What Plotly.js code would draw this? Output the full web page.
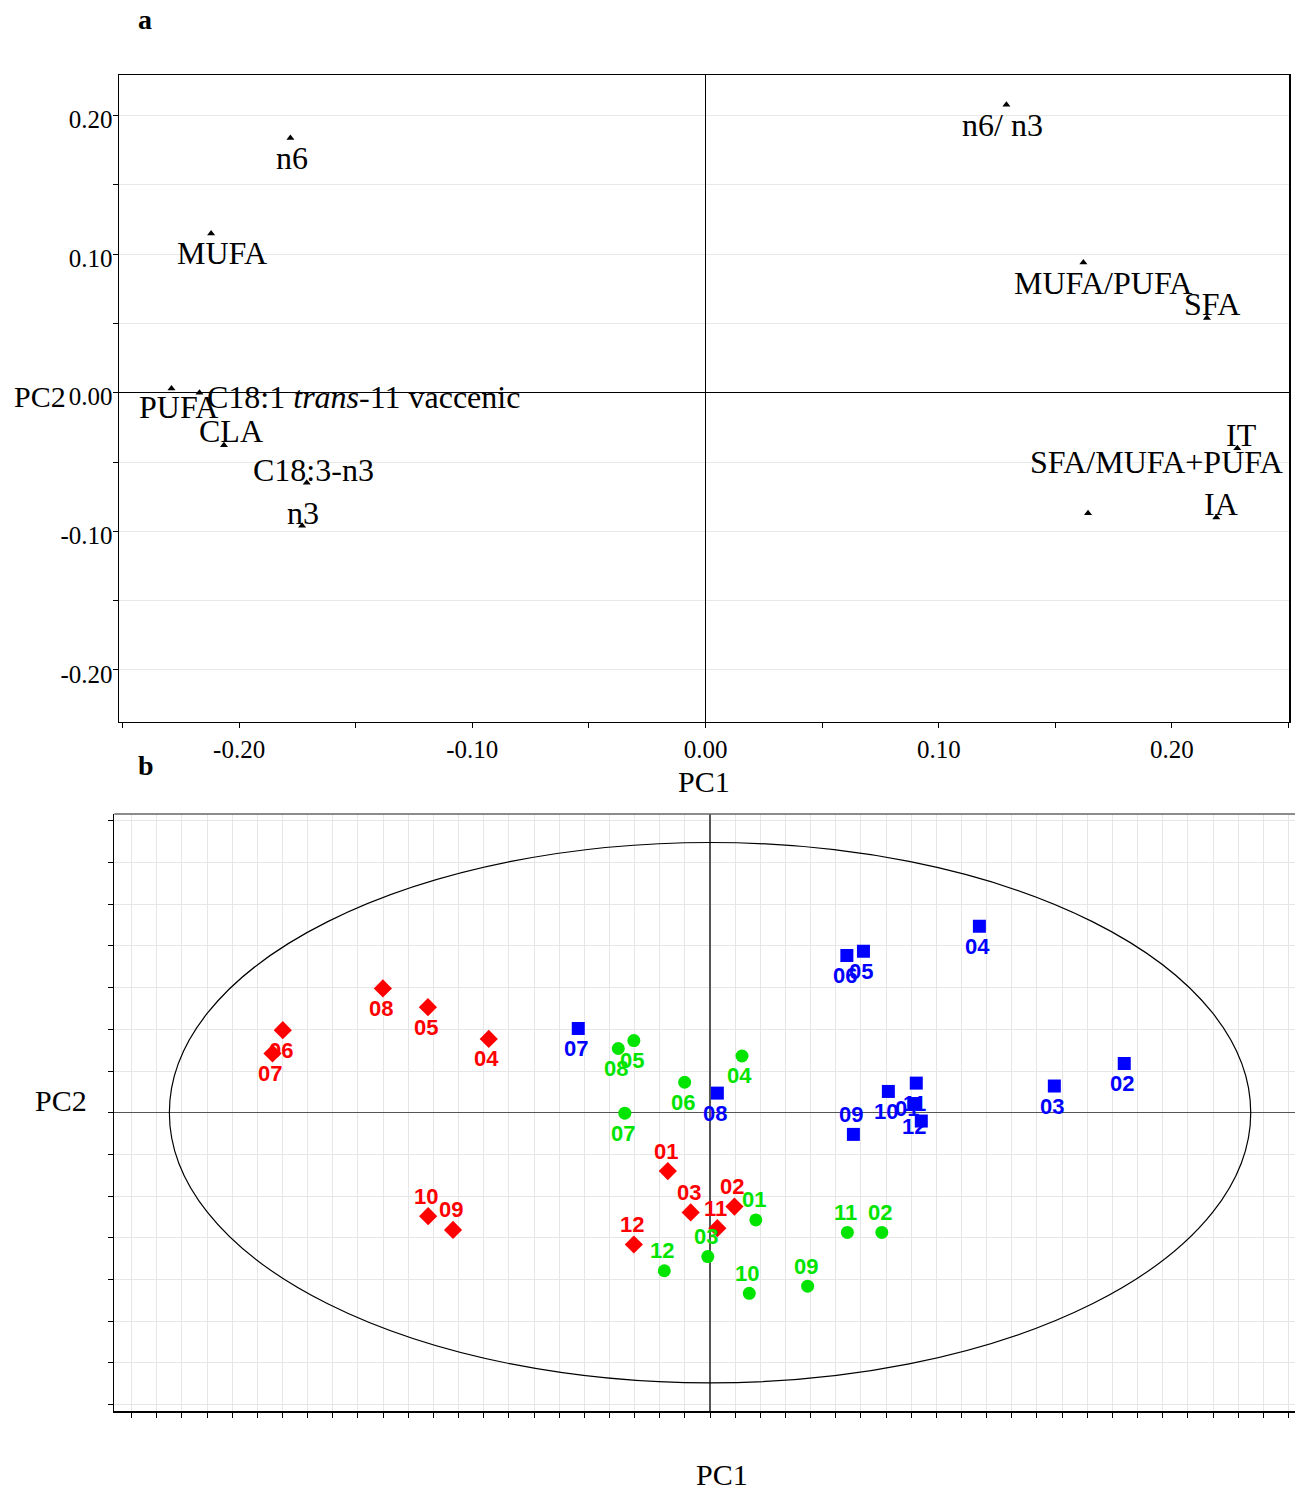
<!DOCTYPE html>
<html><head><meta charset="utf-8">
<script src="https://cdn.plot.ly/plotly-3.0.1.min.js"></script>
<style>html,body{margin:0;padding:0;background:#fff}</style>
</head><body><div id="chart" style="width:1295px;height:1490px"></div>
<script>
// ---------- Panel a: loadings ----------
const loadVars = ['n6','MUFA','PUFA','C18:1 <i>trans</i>-11 vaccenic','CLA','C18:3-n3','n3','n6/ n3','MUFA/PUFA','SFA','IT','SFA/MUFA+PUFA','IA'];
const loadPC1 = [-0.178,-0.212,-0.229,-0.217,-0.2065,-0.171,-0.173,0.129,0.162,0.215,0.228,0.164,0.219];
const loadPC2 = [0.184,0.115,0.003,0.000,-0.038,-0.065,-0.096,0.208,0.094,0.054,-0.040,-0.087,-0.090];
const pc1TickVals = [-0.25,-0.20,-0.15,-0.10,-0.05,0,0.05,0.10,0.15,0.20,0.25];
const pc1TickText = ['','-0.20','','-0.10','','0.00','','0.10','','0.20',''];
const pc2TickVals = [-0.20,-0.15,-0.10,-0.05,0,0.05,0.10,0.15,0.20];
const pc2TickText = ['-0.20','','-0.10','','0.00','','0.10','','0.20'];

// ---------- Panel b: scores ----------
const sampleIds = ['01','02','03','04','05','06','07','08','09','10','11','12'];
const redPC1 = [-1.68,0.97,-0.77,-8.80,-11.22,-16.99,-17.40,-13.01,-10.22,-11.21,0.29,-3.03];
const redPC2 = [-1.40,-2.25,-2.39,1.77,2.53,1.98,1.42,2.98,-2.81,-2.48,-2.77,-3.16];
const greenPC1 = [1.82,6.83,-0.09,1.27,-3.03,-1.01,-3.39,-3.65,3.88,1.56,5.46,-1.82];
const greenPC2 = [-2.57,-2.87,-3.45,1.36,1.73,0.73,-0.01,1.54,-4.16,-4.33,-2.87,-3.79];
const bluePC1 = [8.10,16.47,13.69,10.71,6.10,5.44,-5.24,0.29,5.70,7.09,8.20,8.40];
const bluePC2 = [0.22,1.18,0.64,4.47,3.87,3.77,2.02,0.47,-0.52,0.51,0.71,-0.20];
// Hotelling ellipse semi-axes
const ellipsePC1 = 21.5;
const ellipsePC2 = 6.48;

// ---------- styling (label placement) ----------
const loadLabelShift = [[2,20],[11,20],[7,18],[6,4],[7,-14],[7,-13],[1,-13],[-4,20],[20,20],[5,-14],[4,-13],[68,-51],[5,-13]];
const redPlace   = ['a','a','a','b','b','b','b','b','a','a','a','a'];
const greenPlace = ['a','a','a','b','b','b','b','b','a','a','a','a'];
const bluePlace  = ['c','b','b','b','b','b','b','b','a','b','b','c'];

const W = 1295, H = 1490;
const px = v => v / W, py = v => 1 - v / H;

const traces = [
  {x: loadPC1, y: loadPC2, xaxis:'x', yaxis:'y', mode:'markers', type:'scatter',
   marker:{symbol:'triangle-up', size:7, color:'#000'}, hoverinfo:'skip'},
  {x: redPC1, y: redPC2, xaxis:'x2', yaxis:'y2', mode:'markers', type:'scatter',
   marker:{symbol:'diamond', size:14, color:'#ff0000'}},
  {x: greenPC1, y: greenPC2, xaxis:'x2', yaxis:'y2', mode:'markers', type:'scatter',
   marker:{symbol:'circle', size:13, color:'#00e400'}},
  {x: bluePC1, y: bluePC2, xaxis:'x2', yaxis:'y2', mode:'markers', type:'scatter',
   marker:{symbol:'square', size:13, color:'#0000ff'}}
];

const annotations = [];
loadVars.forEach((t,i) => {
  const left = i === 3;
  annotations.push({text:t, x:loadPC1[i], y:loadPC2[i], xref:'x', yref:'y', showarrow:false,
    xanchor: left ? 'left' : 'center', yanchor:'middle',
    xshift: loadLabelShift[i][0], yshift: -loadLabelShift[i][1],
    font:{family:'Liberation Serif', size:32, color:'#000'}});
});
function addScoreLabels(xs, ys, place, color){
  sampleIds.forEach((id,i) => {
    const p = place[i];
    const ys_ = p === 'a' ? 20 : (p === 'b' ? -20 : -5);
    const xs_ = p === 'c' ? -7 : -2;
    annotations.push({text:'<b>'+id+'</b>', x:xs[i], y:ys[i], xref:'x2', yref:'y2', showarrow:false,
      xanchor:'center', yanchor:'middle', xshift:xs_, yshift:ys_,
      font:{family:'Liberation Sans', size:22, color:color}});
  });
}
addScoreLabels(redPC1, redPC2, redPlace, '#ff0000');
addScoreLabels(greenPC1, greenPC2, greenPlace, '#00e400');
addScoreLabels(bluePC1, bluePC2, bluePlace, '#0000ff');

const ttl = (text, x, y, size, bold) => ({text: bold ? '<b>'+text+'</b>' : text, x:px(x), y:py(y),
  xref:'paper', yref:'paper', showarrow:false, xanchor:'center', yanchor:'middle',
  font:{family:'Liberation Serif', size:size, color:'#000'}});
annotations.push(ttl('a',145,20,28,true));
annotations.push(ttl('b',146,765,28,true));
annotations.push(ttl('PC1',704,781,30,false));
annotations.push(ttl('PC2',40,396,30,false));
annotations.push(ttl('PC2',61,1100,30,false));
annotations.push(ttl('PC1',722,1474,30,false));

const serifTick = {family:'Liberation Serif', size:25, color:'#000'};

const layout = {
  width:W, height:H, margin:{l:0,r:0,t:0,b:0}, showlegend:false,
  paper_bgcolor:'#fff', plot_bgcolor:'#fff',
  xaxis:{domain:[px(119), px(1289.3)], range:[-0.2515,0.2503], anchor:'y',
    showgrid:false, zeroline:true, zerolinecolor:'#000', zerolinewidth:1,
    showline:true, linecolor:'#000', linewidth:1.5, mirror:true,
    ticks:'outside', ticklen:5, tickcolor:'#000', tickwidth:1,
    tickmode:'array', tickvals:pc1TickVals, ticktext:pc1TickText, tickfont:serifTick, ticklabelstandoff:0},
  yaxis:{domain:[py(721.7), py(75)], range:[-0.2375,0.2294], anchor:'x',
    showgrid:true, gridcolor:'#e8e8e8', gridwidth:1,
    zeroline:true, zerolinecolor:'#000', zerolinewidth:1,
    showline:true, linecolor:'#000', linewidth:1.5, mirror:true,
    ticks:'outside', ticklen:5, tickcolor:'#000', tickwidth:1,
    tickmode:'array', tickvals:pc2TickVals, ticktext:pc2TickText, tickfont:serifTick,
    ticklabelstandoff:-5, ticklabelshift:4},
  xaxis2:{domain:[px(114.3), 1], range:[-23.69,23.26], anchor:'y2',
    tickmode:'linear', tick0:0, dtick:1,
    showgrid:true, gridcolor:'#e6e6e6', gridwidth:1,
    zeroline:true, zerolinecolor:'#555', zerolinewidth:1.5,
    showline:true, linecolor:'#000', linewidth:2,
    ticks:'outside', ticklen:5, tickcolor:'#000', tickwidth:1, showticklabels:false},
  yaxis2:{domain:[py(1411), py(814)], range:[-7.153,7.163], anchor:'x2',
    tickmode:'linear', tick0:0, dtick:1,
    showgrid:true, gridcolor:'#e6e6e6', gridwidth:1,
    zeroline:true, zerolinecolor:'#555', zerolinewidth:1.5,
    showline:true, linecolor:'#000', linewidth:1.5,
    ticks:'outside', ticklen:5, tickcolor:'#000', tickwidth:1, showticklabels:false},
  shapes:[
    {type:'circle', xref:'x2', yref:'y2', x0:-ellipsePC1, x1:ellipsePC1, y0:-ellipsePC2, y1:ellipsePC2,
     line:{color:'#000', width:1.2}, layer:'between'},
    {type:'line', xref:'x2 domain', yref:'y2 domain', x0:0, x1:1, y0:1, y1:1,
     line:{color:'#666', width:1.5}}
  ],
  annotations: annotations
};

Plotly.newPlot('chart', traces, layout, {staticPlot:true, displayModeBar:false});
</script></body></html>
